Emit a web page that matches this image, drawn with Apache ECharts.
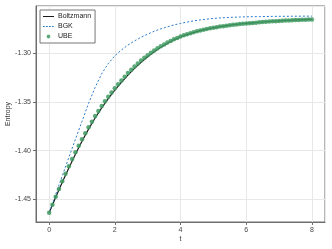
<!DOCTYPE html>
<html>
<head>
<meta charset="utf-8">
<script src="https://cdn.jsdelivr.net/npm/echarts@6/dist/echarts.min.js"></script>
<style>html,body{margin:0;padding:0;background:#fff;}#c{width:332px;height:249px;}</style>
</head>
<body>
<div id="c"></div>
<script>
// time grid for the two line series (step 0.2)
var tLine = [0.0,0.2,0.4,0.6,0.8,1.0,1.2,1.4,1.6,1.8,2.0,2.2,2.4,2.6,2.8,3.0,3.2,3.4,3.6,3.8,4.0,4.2,4.4,4.6,4.8,5.0,5.2,5.4,5.6,5.8,6.0,6.2,6.4,6.6,6.8,7.0,7.2,7.4,7.6,7.8,8.0];
var boltzmann = [-1.4640,-1.4480,-1.4326,-1.4178,-1.4037,-1.3903,-1.3779,-1.3665,-1.3561,-1.3466,-1.3379,-1.3298,-1.3223,-1.3154,-1.3091,-1.3034,-1.2983,-1.2938,-1.2898,-1.2863,-1.2832,-1.2807,-1.2786,-1.2767,-1.2751,-1.2737,-1.2725,-1.2715,-1.2706,-1.2698,-1.2692,-1.2686,-1.2680,-1.2675,-1.2670,-1.2666,-1.2662,-1.2659,-1.2656,-1.2653,-1.2650];
var bgk = [-1.4640,-1.4450,-1.4260,-1.4070,-1.3883,-1.3700,-1.3515,-1.3350,-1.3210,-1.3105,-1.3025,-1.2965,-1.2915,-1.2872,-1.2835,-1.2802,-1.2773,-1.2748,-1.2727,-1.2708,-1.2692,-1.2678,-1.2666,-1.2656,-1.2648,-1.2641,-1.2636,-1.2632,-1.2629,-1.2626,-1.2624,-1.2623,-1.2622,-1.2621,-1.2620,-1.2619,-1.2619,-1.2618,-1.2618,-1.2617,-1.2617];
// time grid for UBE markers (step 0.1)
var tUBE = [0.0,0.1,0.2,0.3,0.4,0.5,0.6,0.7,0.8,0.9,1.0,1.1,1.2,1.3,1.4,1.5,1.6,1.7,1.8,1.9,2.0,2.1,2.2,2.3,2.4,2.5,2.6,2.7,2.8,2.9,3.0,3.1,3.2,3.3,3.4,3.5,3.6,3.7,3.8,3.9,4.0,4.1,4.2,4.3,4.4,4.5,4.6,4.7,4.8,4.9,5.0,5.1,5.2,5.3,5.4,5.5,5.6,5.7,5.8,5.9,6.0,6.1,6.2,6.3,6.4,6.5,6.6,6.7,6.8,6.9,7.0,7.1,7.2,7.3,7.4,7.5,7.6,7.7,7.8,7.9,8.0];
var ube = [-1.4640,-1.4557,-1.4474,-1.4394,-1.4314,-1.4237,-1.4160,-1.4087,-1.4017,-1.3950,-1.3883,-1.3821,-1.3759,-1.3702,-1.3645,-1.3593,-1.3541,-1.3493,-1.3446,-1.3402,-1.3359,-1.3318,-1.3278,-1.3240,-1.3203,-1.3168,-1.3135,-1.3104,-1.3074,-1.3046,-1.3019,-1.2994,-1.2970,-1.2948,-1.2927,-1.2908,-1.2889,-1.2872,-1.2856,-1.2841,-1.2827,-1.2814,-1.2803,-1.2792,-1.2783,-1.2773,-1.2765,-1.2757,-1.2750,-1.2743,-1.2737,-1.2731,-1.2725,-1.2720,-1.2715,-1.2710,-1.2707,-1.2703,-1.2699,-1.2696,-1.2693,-1.2690,-1.2687,-1.2684,-1.2681,-1.2678,-1.2676,-1.2673,-1.2671,-1.2669,-1.2667,-1.2665,-1.2663,-1.2661,-1.2660,-1.2658,-1.2657,-1.2655,-1.2654,-1.2652,-1.2651];
var seriesNames = ['Boltzmann','BGK','UBE'];

function pairs(xs, ys){ var o=[]; for(var i=0;i<xs.length;i++) o.push([xs[i], ys[i]]); return o; }

// legend glyphs (bounding box 11 x 6, tiny corner specks fix the box)
var BOX = 'M0,0h0.01v0.01h-0.01z M10.99,5.99h0.01v0.01h-0.01z ';
var ICON_SOLID = 'path://' + BOX + 'M0,2.45h11v1.1h-11z';
var ICON_DASH = 'path://' + BOX + 'M0,2.5h1.8v1h-1.8z M3,2.5h1.8v1h-1.8z M6,2.5h1.8v1h-1.8z M9,2.5h1.8v1h-1.8z';
var ICON_DOT = 'path://' + BOX + 'M5.5,1.1 L6.8,1.6 L7.4,3 L6.8,4.4 L5.5,4.9 L4.2,4.4 L3.6,3 L4.2,1.6 z';

var FONT = 'Liberation Sans';
var chart = echarts.init(document.getElementById('c'), null, {renderer:'canvas'});
chart.setOption({
  animation:false,
  backgroundColor:'#fff',
  textStyle:{fontFamily:FONT},
  grid:{left:36, right:7, top:6, bottom:27, show:true, borderColor:'#6e6e6e', borderWidth:1, containLabel:false, outerBoundsMode:'none'},
  legend:{
    data:[{name:seriesNames[0], icon:ICON_SOLID},{name:seriesNames[1], icon:ICON_DASH},{name:seriesNames[2], icon:ICON_DOT}],
    orient:'vertical', left:40, top:10,
    backgroundColor:'#fff', borderColor:'#777', borderWidth:1,
    padding:[3,4,3,3], itemGap:3, itemWidth:11, itemHeight:6,
    textStyle:{fontFamily:FONT, fontSize:7, color:'#222', padding:[0,0,0,-1]}
  },
  xAxis:{
    type:'value', min:-0.4, max:8.4, splitNumber:4,
    name:'t', nameLocation:'middle', nameGap:14, nameMoveOverlap:false,
    nameTextStyle:{fontFamily:FONT, fontSize:7, color:'#333'},
    axisLine:{show:true, onZero:false, lineStyle:{color:'#6e6e6e', width:1}},
    axisTick:{show:true, length:3, lineStyle:{color:'#6e6e6e'}},
    axisLabel:{fontFamily:FONT, fontSize:7, color:'#444', margin:5, showMinLabel:false, showMaxLabel:false},
    splitLine:{show:true, lineStyle:{color:'#e8e8e8', width:1}}
  },
  yAxis:{
    type:'value', min:-1.4734, max:-1.2513, splitNumber:4,
    name:'Entropy', nameLocation:'middle', nameGap:24, nameMoveOverlap:false,
    nameTextStyle:{fontFamily:FONT, fontSize:7, color:'#333'},
    axisLine:{show:true, onZero:false, lineStyle:{color:'#6e6e6e', width:1}},
    axisTick:{show:true, length:3, lineStyle:{color:'#6e6e6e'}},
    axisLabel:{fontFamily:FONT, fontSize:7, color:'#444', margin:5, showMinLabel:false, showMaxLabel:false,
      formatter:function(v){ return v.toFixed(2); }},
    splitLine:{show:true, lineStyle:{color:'#e8e8e8', width:1}}
  },
  series:[
    {name:seriesNames[0], type:'line', data:pairs(tLine, boltzmann), symbol:'none', z:3,
     lineStyle:{color:'#1a1a1a', width:1.2}, itemStyle:{color:'#1a1a1a'}},
    {name:seriesNames[1], type:'line', data:pairs(tLine, bgk), symbol:'none', z:3,
     lineStyle:{color:'#2b7bcc', width:1, type:[2,2]}, itemStyle:{color:'#2b7bcc'}},
    {name:seriesNames[2], type:'scatter', data:pairs(tUBE, ube), symbol:'circle', symbolSize:4.5, z:4,
     itemStyle:{color:'#3f9a62', opacity:0.85}}
  ]
});
</script>
</body>
</html>
